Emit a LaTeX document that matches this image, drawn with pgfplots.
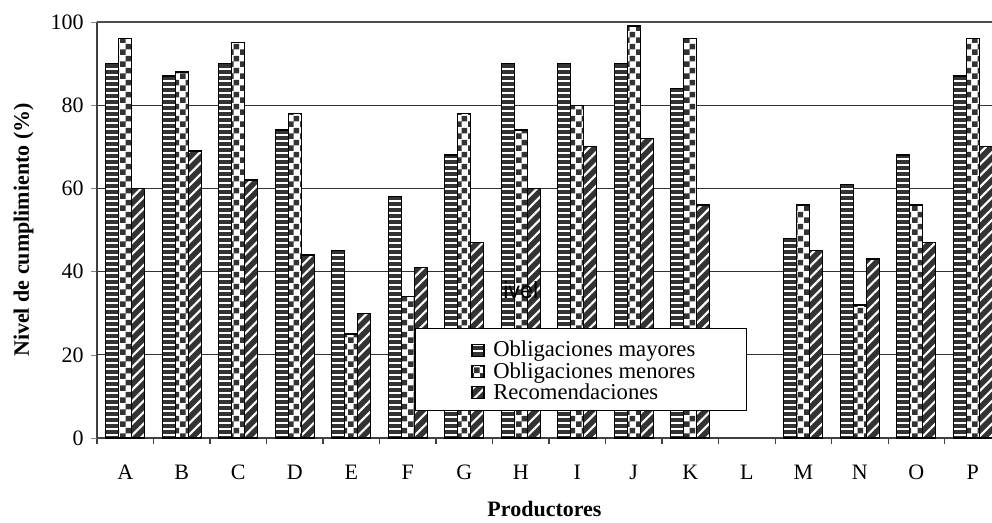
\documentclass[border=0pt]{standalone}
\usepackage{pgfplots}
\pgfplotsset{compat=1.18}
\usepackage{fontspec}
\setmainfont{Liberation Serif}
\newfontfamily\arialfont{Liberation Sans}
\usetikzlibrary{patterns,patterns.meta}

% big checkerboard like the spreadsheet fill
\pgfdeclarepatternformonly{bigcheck}{\pgfpointorigin}{\pgfqpoint{9pt}{9pt}}{\pgfqpoint{9pt}{9pt}}{
  \pgfpathrectangle{\pgfpointorigin}{\pgfqpoint{4.5pt}{4.5pt}}
  \pgfpathrectangle{\pgfqpoint{4.5pt}{4.5pt}}{\pgfqpoint{4.5pt}{4.5pt}}
  \pgfusepath{fill}}

\begin{document}
\begin{tikzpicture}
\begin{axis}[
    scale only axis,
    width=671.25pt, height=312pt,
    xmin=-0.5, xmax=15.34,
    ymin=0, ymax=100,
    ybar, bar width=0.23,
    axis x line*=bottom, axis y line*=left,
    axis line style={draw=black!75, line width=0.9pt},
    xtick={0,...,15},
    xticklabels={A,B,C,D,E,F,G,H,I,J,K,L,M,N,O,P},
    major x tick style={draw=none},
    minor xtick={-0.5,0.5,...,14.5},
    minor x tick style={draw=black!75, line width=0.8pt},
    minor tick length=4.5pt,
    ytick={0,20,...,100},
    major tick length=4.5pt,
    tick align=outside,
    /pgf/number format/assume math mode=true,
    ymajorgrids=true,
    grid style={draw=black!80, line width=0.6pt},
    font=\fontsize{16.5}{19}\selectfont,
    xticklabel style={yshift=-12pt},
    yticklabel style={xshift=-2pt},
    xlabel={\bfseries Productores},
    ylabel={\bfseries Nivel de cumplimiento (\%)},
    xlabel style={yshift=-9.5pt},
    ylabel style={yshift=6pt},
    legend style={at={(axis cs:6.05,24.6)}, anchor=north west, draw=none, fill=none,
        font=\fontsize{17}{19}\selectfont, row sep=-1.5pt},
    legend cell align=left,
    legend image code/.code={\draw[#1, line width=0.9pt] (0pt,-4.5pt) rectangle (9pt,4.5pt);
        \pgfpathmoveto{\pgfqpoint{14pt}{0pt}}\pgfusepath{discard}},
]
\addplot[draw=black, line width=1pt, fill=white, bar shift=-0.23,
    postaction={pattern={Lines[angle=0,distance=4.5pt,line width=2.4pt]}, pattern color=black!80}]
    coordinates {(0,90)(1,87)(2,90)(3,74)(4,45)(5,58)(6,68)(7,90)(8,90)(9,90)(10,84)(12,48)(13,61)(14,68)(15,87)};
\addplot[draw=black, line width=1pt, fill=white, bar shift=0,
    postaction={pattern=bigcheck, pattern color=black!80}]
    coordinates {(0,96)(1,88)(2,95)(3,78)(4,25)(5,34)(6,78)(7,74)(8,80)(9,99)(10,96)(12,56)(13,32)(14,56)(15,96)};
\addplot[draw=black, line width=1pt, fill=black!80, bar shift=0.23,
    postaction={pattern={Lines[angle=45,distance=6pt,line width=1.6pt]}, pattern color=white}]
    coordinates {(0,60)(1,69)(2,62)(3,44)(4,30)(5,41)(6,47)(7,60)(8,70)(9,72)(10,56)(12,45)(13,43)(14,47)(15,70)};
\legend{Obligaciones mayores, Obligaciones menores, Recomendaciones}
\draw[black!70, line width=1.4pt] (axis cs:-0.5,100) -- (axis cs:15.34,100);
\draw[black, line width=0.8pt, fill=white] (axis cs:5.13,26.4) rectangle (axis cs:11.0,6.7);
\node[font=\arialfont\fontsize{17.5}{20}\selectfont, text=black, inner sep=0pt] at (axis cs:7.0,35.6) {ivel};
\end{axis}
\pgfresetboundingbox
\path[use as bounding box] (-72.75pt,-63pt) rectangle (671.25pt,328.5pt);
\end{tikzpicture}
\end{document}
